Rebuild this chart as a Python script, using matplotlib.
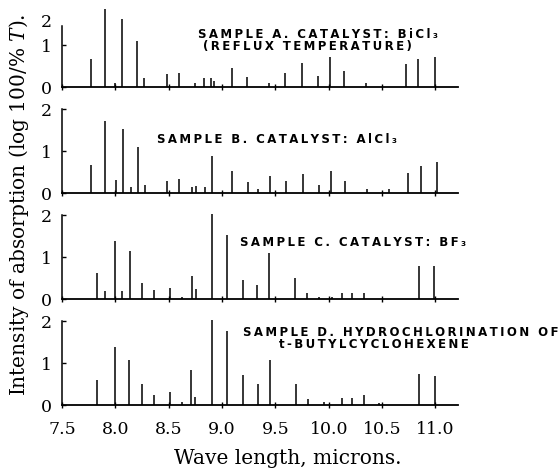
import matplotlib
matplotlib.use("Agg")
import matplotlib.pyplot as plt
import numpy as np

plt.rcParams['font.family'] = 'DejaVu Serif'
plt.rcParams['mathtext.fontset'] = 'dejavuserif'

# wavelengths (microns) and absorption peak heights
wl_a = [7.77, 7.90, 8.00, 8.06, 8.20, 8.27, 8.48, 8.60, 8.75, 8.83, 8.90, 8.925,
        9.09, 9.23, 9.44, 9.59, 9.75, 9.90, 10.01, 10.14, 10.35, 10.725, 10.84, 11.00]
h_a = [0.67, 1.86, 0.10, 1.63, 1.11, 0.22, 0.32, 0.35, 0.11, 0.22, 0.22, 0.14,
       0.47, 0.24, 0.10, 0.35, 0.59, 0.26, 0.71, 0.39, 0.10, 0.55, 0.68, 0.72]

wl_b = [7.77, 7.906, 8.003, 8.07, 8.15, 8.21, 8.275, 8.48, 8.60, 8.72, 8.76, 8.84,
        8.91, 9.09, 9.24, 9.34, 9.45, 9.60, 9.76, 9.91, 10.02, 10.15, 10.36, 10.56,
        10.74, 10.86, 11.01]
h_b = [0.68, 1.72, 0.32, 1.52, 0.16, 1.10, 0.20, 0.30, 0.34, 0.14, 0.18, 0.15,
       0.90, 0.52, 0.26, 0.10, 0.42, 0.30, 0.46, 0.20, 0.52, 0.30, 0.10, 0.10,
       0.48, 0.66, 0.74]

wl_c = [7.83, 7.906, 8.00, 8.066, 8.14, 8.25, 8.36, 8.51, 8.62, 8.72, 8.76, 8.91,
        9.05, 9.20, 9.33, 9.44, 9.68, 9.80, 9.91, 10.03, 10.12, 10.22, 10.33,
        10.85, 10.99]
h_c = [0.63, 0.20, 1.38, 0.19, 1.15, 0.40, 0.23, 0.28, 0.05, 0.56, 0.24, 2.02,
       1.53, 0.45, 0.35, 1.11, 0.51, 0.16, 0.05, 0.06, 0.15, 0.16, 0.16,
       0.79, 0.79]

wl_d = [7.83, 8.00, 8.13, 8.25, 8.36, 8.51, 8.62, 8.71, 8.75, 8.91, 9.05, 9.20,
        9.34, 9.45, 9.69, 9.81, 9.96, 10.12, 10.22, 10.33, 10.475, 10.85, 11.00]
h_d = [0.60, 1.38, 1.09, 0.50, 0.24, 0.31, 0.08, 0.83, 0.20, 2.02, 1.76, 0.71,
       0.50, 1.09, 0.50, 0.16, 0.08, 0.17, 0.17, 0.24, 0.05, 0.75, 0.69]

xticks = [7.5, 8.0, 8.5, 9.0, 9.5, 10.0, 10.5, 11.0]

titles = [["SAMPLE A. CATALYST: BiCl\u2083", "(REFLUX TEMPERATURE)"],
          ["SAMPLE B. CATALYST: AlCl\u2083"],
          ["SAMPLE C. CATALYST: BF\u2083"],
          ["SAMPLE D. HYDROCHLORINATION OF", "t-BUTYLCYCLOHEXENE"]]


def spaced(s):
    # the printed captions are letter-spaced; thin spaces between glyphs
    return "\u2009".join(s)


W, H = 560, 471
fig = plt.figure(figsize=(W / 100, H / 100), dpi=100)

baselines = [87.3, 193.3, 299.3, 405.3]   # pixel rows of the zero lines
ppu = 42.0                                # pixels per absorbance unit
left, right = 62, 458
xmax = 7.5 + (right - left) / 106.7

data = [(wl_a, h_a), (wl_b, h_b), (wl_c, h_c), (wl_d, h_d)]
for i, (wl, hh) in enumerate(data):
    yb = baselines[i]
    bottom = yb + 6.3
    ax = fig.add_axes([left / W, 1 - bottom / H, (right - left) / W, 106 / H])
    ax.set_xlim(7.5, xmax)
    ax.set_ylim(-6.3 / ppu, (106 - 6.3) / ppu)
    ax.vlines(wl, 0, hh, color='black', lw=1.1)
    for s in ['top', 'right']:
        ax.spines[s].set_visible(False)
    ax.spines['bottom'].set_position(('data', 0))
    ax.spines['bottom'].set_linewidth(1.3)
    ax.spines['left'].set_linewidth(1.1)
    ax.set_xticks(xticks)
    ax.tick_params(axis='x', direction='inout', length=5, width=1.0,
                   labelsize=12.5, pad=9)
    ax.tick_params(axis='y', direction='in', length=3, width=1.0,
                   labelsize=12.5, pad=7)
    if i == 0:
        ax.spines['left'].set_bounds(0, 1.45)
        ax.set_yticks([0, 1, 1.6], ['0', '1', '2'])
        ax.yaxis.get_major_ticks()[2].tick1line.set_visible(False)
    else:
        ax.spines['left'].set_bounds(0, 2)
        ax.set_yticks([0, 1, 2], ['0', '1', '2'])
    if i < 3:
        ax.set_xticklabels([])
    else:
        ax.set_xticklabels(['%.1f' % t for t in xticks])
    ax.patch.set_visible(False)

# sample captions (pixel positions of left edge / centre row)
cap_pos = [[(198, 34.5), (203, 46.5)], [(157, 140)], [(240, 243)],
           [(243, 333), (279, 345)]]
for lines, pos in zip(titles, cap_pos):
    for txt, (px, py) in zip(lines, pos):
        fig.text(px / W, 1 - py / H, spaced(txt), family='DejaVu Sans',
                 weight='bold', fontsize=8.5, ha='left', va='center')

fig.text(19 / W, 1 - 205 / H, "Intensity of absorption (log 100/% $T$).",
         rotation=90, ha='center', va='center', fontsize=14.5)
fig.text(288 / W, 1 - 459 / H, "Wave length, microns.", ha='center',
         va='center', fontsize=14.5)

fig.savefig('out.png', dpi=100)
